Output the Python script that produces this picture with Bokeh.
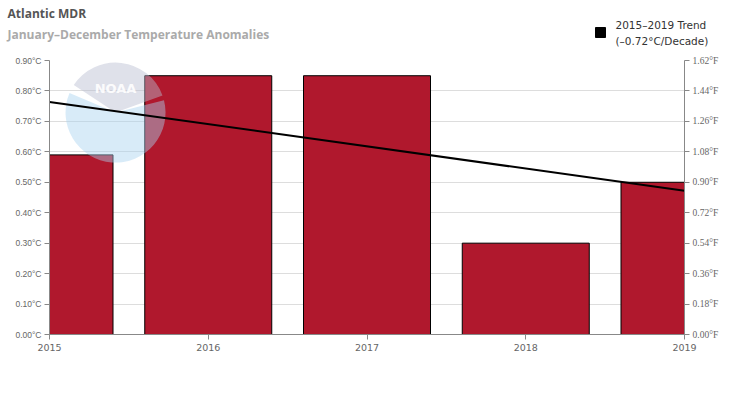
import numpy as np
from bokeh.plotting import figure
from bokeh.layouts import column
from bokeh.models import Range1d, LinearAxis, FixedTicker, PrintfTickFormatter
from bokeh.core.properties import value
from bokeh.embed import file_html
from bokeh.resources import INLINE

# ---- data ----
years = [2015, 2016, 2017, 2018, 2019]
anomalies_c = [0.59, 0.85, 0.85, 0.30, 0.50]
c_ticks = [0.0, 0.1, 0.2, 0.3, 0.4, 0.5, 0.6, 0.7, 0.8, 0.9]
f_ticks = [0.0, 0.18, 0.36, 0.54, 0.72, 0.90, 1.08, 1.26, 1.44, 1.62]
title_text = "Atlantic MDR"
subtitle_text = "January–December Temperature Anomalies"
legend_line1 = "2015–2019 Trend"
legend_line2 = "(–0.72°C/Decade)"

# trend via least squares
slope, intercept = np.polyfit(years, anomalies_c, 1)
trend_x = [years[0], years[-1]]
trend_y = [slope * x + intercept for x in trend_x]

BAR = "#b0182d"
AXIS = "#888888"
TXT = "#666666"

# ---------- header (titles + legend), pixel coordinates from top-left ----------
H = 48
hdr = figure(width=734, height=H, output_backend="svg", toolbar_location=None,
             title=None, x_range=Range1d(0, 734), y_range=Range1d(H, 0),
             x_axis_location=None, y_axis_location=None, min_border=0)
hdr.frame_align = False
hdr.outline_line_color = None
hdr.xgrid.visible = False
hdr.ygrid.visible = False
hdr.background_fill_color = "white"
hdr.border_fill_color = "white"

hdr.text([7], [13], text=[title_text], text_font=value("Open Sans"),
         text_font_size="12px", text_font_style="bold", text_color="#555555",
         text_baseline="middle")
hdr.text([7], [34], text=[subtitle_text], text_font=value("Open Sans"),
         text_font_size="12px", text_font_style="bold", text_color="#aaaaaa",
         text_baseline="middle")
hdr.scatter([600], [32], marker="square", size=10, fill_color="black", line_color="black")
hdr.text([615], [24], text=[legend_line1], text_font=value("DejaVu Sans"),
         text_font_size="10.5px", text_color="#333333", text_baseline="middle")
hdr.text([615], [40], text=[legend_line2], text_font=value("DejaVu Sans"),
         text_font_size="10.5px", text_color="#333333", text_baseline="middle")

# ---------- main chart ----------
p = figure(width=734, height=400 - H, output_backend="svg", toolbar_location=None,
           x_range=Range1d(2015, 2019), y_range=Range1d(0, 0.9),
           min_border_left=49, min_border_right=50, min_border_top=60 - H,
           min_border_bottom=66)
p.frame_align = False
p.outline_line_color = None
p.background_fill_color = "white"
p.border_fill_color = "white"

p.vbar(x=years, top=anomalies_c, width=0.8, fill_color=BAR, line_color="black",
       line_width=1)

# NOAA watermark (decorative): grey cap, light-blue lower part, white gaps
lx, ly = 2015.416, 0.729
p.wedge([lx], [ly], radius=50, radius_units="screen", start_angle=0.35, end_angle=2.56,
        fill_color="#b8bdd0", fill_alpha=0.45, line_color=None)
p.wedge([lx], [ly], radius=50, radius_units="screen", start_angle=2.74,
        end_angle=2 * np.pi + 0.25,
        fill_color="#a8d2f0", fill_alpha=0.45, line_color=None)
p.text([lx], [ly], text=["NOAA"], text_color="white", text_alpha=0.9,
       text_font=value("DejaVu Sans"), text_font_size="13px", text_font_style="bold",
       text_align="center", text_baseline="middle", y_offset=-24)

p.line(trend_x, trend_y, line_color="black", line_width=2)

# axes
ax = p.yaxis[0]
ax.ticker = FixedTicker(ticks=c_ticks)
ax.formatter = PrintfTickFormatter(format="%.2f°C")
ax.axis_line_color = AXIS
ax.major_tick_line_color = AXIS
ax.major_tick_out = 5
ax.major_tick_in = 0
ax.minor_tick_line_color = None
ax.major_label_text_font = "Liberation Sans"
ax.major_label_text_font_size = "8.5px"
ax.major_label_text_color = TXT
ax.major_label_standoff = 3

p.extra_y_ranges = {"f": Range1d(0, 1.62)}
rax = LinearAxis(y_range_name="f")
rax.ticker = FixedTicker(ticks=f_ticks)
rax.formatter = PrintfTickFormatter(format="%.2f°F")
rax.axis_line_color = AXIS
rax.major_tick_line_color = AXIS
rax.major_tick_out = 5
rax.major_tick_in = 0
rax.minor_tick_line_color = None
rax.major_label_text_font = "Liberation Serif"
rax.major_label_text_font_size = "9.5px"
rax.major_label_text_color = TXT
rax.major_label_standoff = 3
p.add_layout(rax, "right")

bx = p.xaxis[0]
bx.ticker = FixedTicker(ticks=years)
bx.formatter = PrintfTickFormatter(format="%d")
bx.axis_line_color = AXIS
bx.major_tick_line_color = AXIS
bx.major_tick_out = 5
bx.major_tick_in = 0
bx.minor_tick_line_color = None
bx.major_label_text_font = "DejaVu Sans"
bx.major_label_text_font_size = "9.5px"
bx.major_label_text_color = TXT
bx.major_label_standoff = 4

p.xgrid.grid_line_color = None
p.ygrid.ticker = FixedTicker(ticks=c_ticks)
p.ygrid.grid_line_color = "#dddddd"

layout = column(hdr, p, spacing=0)
open("out.html", "w").write(file_html(layout, INLINE))
